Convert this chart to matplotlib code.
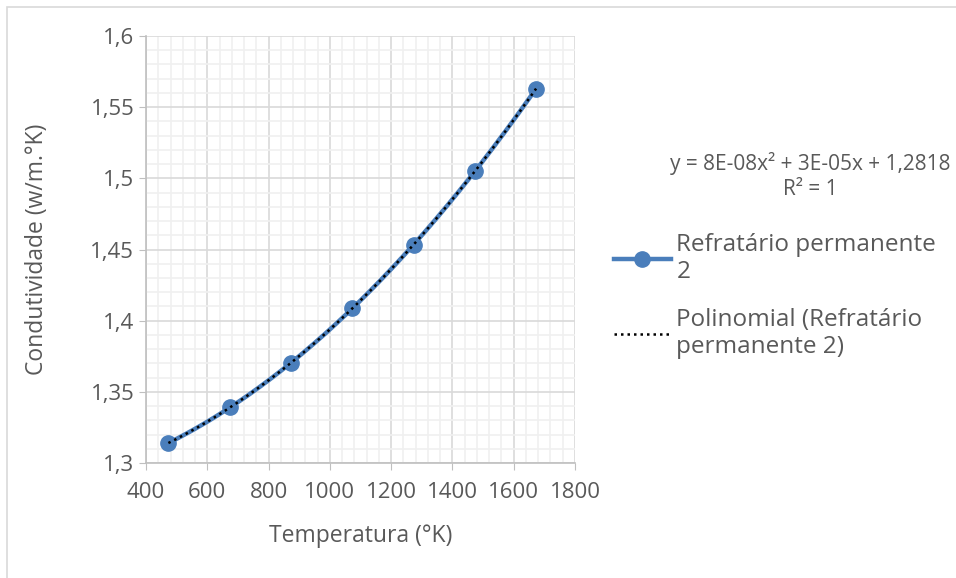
import numpy as np
import matplotlib.pyplot as plt
from matplotlib.ticker import MultipleLocator, FuncFormatter
from matplotlib.patches import Rectangle

# data
temperatura = [473, 673, 873, 1073, 1273, 1473, 1673]
condutividade = [1.314, 1.339, 1.370, 1.409, 1.453, 1.505, 1.563]

serie_label = 'Refratário permanente\n2'
trend_label = 'Polinomial (Refratário\npermanente 2)'
eq_text = 'y = 8E-08x² + 3E-05x + 1,2818\nR² = 1'

blue = '#4a7ebb'
txt = '#595959'
plt.rcParams['font.family'] = ['Open Sans', 'DejaVu Sans']

fig = plt.figure(figsize=(9.56, 5.78), dpi=100)
fig.patches.append(Rectangle((7 / 956, -0.1), 1.2, (578 - 7) / 578 + 0.1,
                             transform=fig.transFigure, fill=False,
                             edgecolor='#d9d9d9', lw=1.2))
ax = fig.add_axes([146 / 956, 115 / 578, 429 / 956, 427 / 578])

# trendline (2nd order polynomial fit of the series)
coef = np.polyfit(temperatura, condutividade, 2)
xs = np.linspace(temperatura[0], temperatura[-1], 200)

ax.plot(xs, np.polyval(coef, xs), color=blue, lw=3.2, zorder=3)
ax.plot(temperatura, condutividade, 'o', color=blue, ms=11, zorder=4)
ax.plot(xs, np.polyval(coef, xs), color='black', lw=1.8, ls=(0, (1, 1.6)), zorder=5)

ax.set_xlim(400, 1800)
ax.set_ylim(1.3, 1.6)
ax.xaxis.set_major_locator(MultipleLocator(200))
ax.xaxis.set_minor_locator(MultipleLocator(40))
ax.yaxis.set_major_locator(MultipleLocator(0.05))
ax.yaxis.set_minor_locator(MultipleLocator(0.01))
ax.yaxis.set_major_formatter(FuncFormatter(lambda v, p: f'{round(v, 2):g}'.replace('.', ',')))
ax.grid(which='major', color='#d9d9d9', lw=1.2)
ax.grid(which='minor', color='#f0f0f0', lw=1.2)
ax.set_axisbelow(True)
for s in ['top', 'right']:
    ax.spines[s].set_visible(False)
for s in ['left', 'bottom']:
    ax.spines[s].set_color('#bfbfbf')
    ax.spines[s].set_linewidth(1.2)
ax.tick_params(which='major', length=5, color='#bfbfbf', labelsize=16, labelcolor=txt)
ax.tick_params(axis='x', pad=9)
ax.tick_params(which='minor', length=0)

ax.set_xlabel('Temperatura (°K)', fontsize=16.5, color=txt, labelpad=15)
ax.set_ylabel('Condutividade (w/m.°K)', fontsize=16.5, color=txt, labelpad=30)

fig.text(810 / 956, 1 - 176 / 578, eq_text, ha='center', va='center',
         fontsize=15, color=txt, linespacing=1.2)

h1, = ax.plot([], [], '-o', color=blue, lw=3.2, ms=11)
h2, = ax.plot([], [], color='black', lw=1.8, ls=(0, (1, 1.6)))
fig.legend([h1, h2], [serie_label, trend_label], loc='upper left',
           bbox_to_anchor=(592 / 956, 1 - 211 / 578), frameon=False,
           fontsize=17.5, labelcolor=txt, handlelength=2.35, handletextpad=0.22,
           labelspacing=0.95)

fig.savefig('out.png', dpi=100)
